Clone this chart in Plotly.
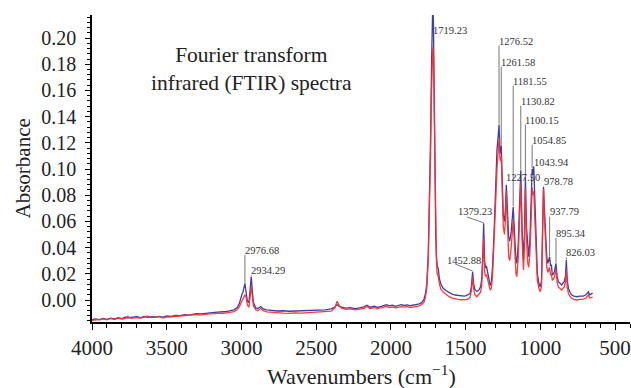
import plotly.graph_objects as go

# ---------------- data ----------------
wavenumbers = [
    4000, 3975, 3950, 3925, 3900, 3875, 3850, 3825, 3800, 3775, 3760, 3740, 3700, 3675, 3650, 3630,
    3600, 3575, 3550, 3525, 3500, 3470, 3440, 3410, 3380, 3350, 3320, 3300, 3270, 3240, 3210, 3180,
    3150, 3120, 3100, 3075, 3050, 3030, 3015, 3000, 2990, 2980, 2976.68, 2970, 2960, 2950, 2942,
    2934.29, 2928, 2920, 2905, 2890, 2870, 2855, 2830, 2800, 2760, 2720, 2680, 2640, 2600, 2560,
    2520, 2480, 2440, 2400, 2375, 2360, 2345, 2330, 2300, 2270, 2240, 2210, 2180, 2160, 2140, 2110,
    2090, 2060, 2030, 2010, 1990, 1970, 1950, 1930, 1910, 1890, 1870, 1850, 1830, 1810, 1795, 1780,
    1770, 1760, 1750, 1742, 1735, 1728, 1722, 1719.23, 1715, 1710, 1705, 1700, 1695, 1690, 1683,
    1675, 1665, 1650, 1630, 1610, 1590, 1570, 1550, 1530, 1510, 1495, 1480, 1470, 1462, 1452.88,
    1446, 1438, 1425, 1412, 1400, 1392, 1385, 1379.23, 1373, 1367, 1360, 1352, 1343, 1335, 1328,
    1320, 1310, 1300, 1290, 1282, 1276.52, 1270, 1266, 1261.58, 1255, 1248, 1240, 1233, 1227.50,
    1220, 1212, 1205, 1195, 1181.55, 1172, 1163, 1157, 1148, 1140, 1130.82, 1122, 1113, 1106,
    1100.15, 1092, 1085, 1078, 1070, 1062, 1054.85, 1049, 1043.94, 1036, 1028, 1020, 1010, 1000,
    992, 985, 978.78, 973, 968, 962, 957, 950, 944, 937.79, 932, 926, 920, 912, 905, 895.34, 888,
    880, 870, 862, 857, 848, 840, 832, 826.03, 820, 812, 800, 790, 775, 756, 735, 712, 695, 685,
    678, 670, 660, 650,
]

absorbance_blue = [
    -0.0150, -0.0145, -0.0152, -0.0140, -0.0148, -0.0138, -0.0145, -0.0135, -0.0142, -0.0130, -0.0138, -0.0132, -0.0128, -0.0135, -0.0126, -0.0132,
    -0.0128, -0.0130, -0.0125, -0.0130, -0.0122, -0.0126, -0.0118, -0.0120, -0.0112, -0.0115, -0.0108, -0.0104, -0.0106, -0.0100, -0.0098, -0.0095,
    -0.0092, -0.0094, -0.0088, -0.0082, -0.0075, -0.0060, -0.0030, 0.0030, 0.0060, 0.0110, 0.0127, 0.0070, -0.0010, -0.0020, 0.0060,
    0.0178, 0.0080, -0.0020, -0.0060, -0.0065, -0.0050, -0.0068, -0.0075, -0.0080, -0.0084, -0.0082, -0.0086, -0.0084, -0.0082, -0.0085,
    -0.0080, -0.0078, -0.0075, -0.0068, -0.0055, -0.0035, -0.0050, -0.0055, -0.0062, -0.0058, -0.0066, -0.0060, -0.0052, -0.0040, -0.0055, -0.0048,
    -0.0056, -0.0046, -0.0035, -0.0045, -0.0040, -0.0048, -0.0044, -0.0036, -0.0042, -0.0038, -0.0044, -0.0040, -0.0036, -0.0030, -0.0020, 0.0000,
    0.0040, 0.0120, 0.0350, 0.0700, 0.1200, 0.1800, 0.2150, 0.2300, 0.2100, 0.1500, 0.0900, 0.0500, 0.0330, 0.0260, 0.0240,
    0.0160, 0.0120, 0.0090, 0.0070, 0.0055, 0.0045, 0.0038, 0.0035, 0.0032, 0.0030, 0.0033, 0.0040, 0.0050, 0.0100, 0.0216,
    0.0120, 0.0080, 0.0065, 0.0075, 0.0100, 0.0160, 0.0350, 0.0585, 0.0300, 0.0250, 0.0255, 0.0200, 0.0150, 0.0110, 0.0130,
    0.0250, 0.0500, 0.0850, 0.1150, 0.1250, 0.1340, 0.1150, 0.1120, 0.1180, 0.0900, 0.0650, 0.0600, 0.0700, 0.0880,
    0.0650, 0.0480, 0.0450, 0.0520, 0.0710, 0.0450, 0.0300, 0.0280, 0.0420, 0.0700, 0.0990, 0.0550, 0.0310, 0.0500,
    0.0940, 0.0550, 0.0380, 0.0330, 0.0450, 0.0750, 0.1000, 0.0960, 0.1020, 0.0750, 0.0380, 0.0200, 0.0130, 0.0100,
    0.0150, 0.0500, 0.0865, 0.0700, 0.0560, 0.0400, 0.0330, 0.0280, 0.0300, 0.0330, 0.0260, 0.0270, 0.0190, 0.0200, 0.0220, 0.0280, 0.0180,
    0.0140, 0.0130, 0.0120, 0.0115, 0.0130, 0.0140, 0.0180, 0.0305, 0.0150, 0.0090, 0.0055, 0.0038, 0.0030, 0.0025, 0.0030, 0.0030, 0.0040, 0.0050,
    0.0063, 0.0040, 0.0048, 0.0052,
]

absorbance_red = [
    -0.0155, -0.0150, -0.0148, -0.0145, -0.0152, -0.0140, -0.0150, -0.0138, -0.0145, -0.0140, -0.0125, -0.0140, -0.0135, -0.0138, -0.0130, -0.0122,
    -0.0135, -0.0133, -0.0128, -0.0138, -0.0130, -0.0128, -0.0125, -0.0127, -0.0122, -0.0120, -0.0118, -0.0112, -0.0114, -0.0108, -0.0106, -0.0104,
    -0.0100, -0.0102, -0.0098, -0.0092, -0.0088, -0.0075, -0.0055, -0.0015, 0.0010, 0.0035, 0.0040, 0.0025, -0.0040, -0.0055, 0.0020,
    0.0102, 0.0040, -0.0045, -0.0075, -0.0080, -0.0065, -0.0082, -0.0090, -0.0094, -0.0098, -0.0100, -0.0102, -0.0098, -0.0100, -0.0098,
    -0.0096, -0.0092, -0.0090, -0.0085, -0.0060, -0.0010, -0.0045, -0.0062, -0.0072, -0.0068, -0.0075, -0.0070, -0.0064, -0.0050, -0.0065, -0.0058,
    -0.0066, -0.0058, -0.0048, -0.0058, -0.0052, -0.0060, -0.0055, -0.0050, -0.0054, -0.0050, -0.0058, -0.0055, -0.0050, -0.0045, -0.0035, -0.0020,
    0.0015, 0.0090, 0.0300, 0.0620, 0.1080, 0.1600, 0.1900, 0.1930, 0.1850, 0.1350, 0.0800, 0.0450, 0.0280, 0.0200, 0.0180,
    0.0120, 0.0080, 0.0060, 0.0040, 0.0025, 0.0015, 0.0008, 0.0005, 0.0002, 0.0000, 0.0003, 0.0010, 0.0020, 0.0070, 0.0178,
    0.0080, 0.0040, 0.0025, 0.0040, 0.0060, 0.0110, 0.0280, 0.0470, 0.0220, 0.0180, 0.0195, 0.0140, 0.0110, 0.0075, 0.0090,
    0.0180, 0.0400, 0.0720, 0.1000, 0.1150, 0.1230, 0.1080, 0.1060, 0.1100, 0.0820, 0.0560, 0.0500, 0.0620, 0.0830,
    0.0520, 0.0330, 0.0300, 0.0400, 0.0610, 0.0350, 0.0200, 0.0178, 0.0320, 0.0600, 0.0900, 0.0450, 0.0230, 0.0400,
    0.0850, 0.0450, 0.0290, 0.0250, 0.0350, 0.0600, 0.0860, 0.0800, 0.0830, 0.0600, 0.0300, 0.0150, 0.0090, 0.0063,
    0.0110, 0.0450, 0.0850, 0.0650, 0.0480, 0.0330, 0.0250, 0.0210, 0.0230, 0.0250, 0.0190, 0.0200, 0.0150, 0.0160, 0.0180, 0.0240, 0.0140,
    0.0100, 0.0090, 0.0080, 0.0076, 0.0090, 0.0100, 0.0140, 0.0230, 0.0100, 0.0050, 0.0025, 0.0013, 0.0005, 0.0000, 0.0005, 0.0007, 0.0015, 0.0025,
    0.0038, 0.0015, 0.0020, 0.0022,
]

peak_wavenumbers = [2976.68, 2934.29, 1719.23, 1452.88, 1379.23, 1276.52, 1261.58, 1227.50,
                    1181.55, 1130.82, 1100.15, 1054.85, 1043.94, 978.78, 937.79, 895.34, 826.03]

x_tick_values = [4000, 3500, 3000, 2500, 2000, 1500, 1000, 500]
y_tick_values = [0.00, 0.02, 0.04, 0.06, 0.08, 0.10, 0.12, 0.14, 0.16, 0.18, 0.20]

# ---------------- label layout (text heights in axis units) ----------------
label_text_y = [0.0380, 0.0225, 0.2061, 0.0305, 0.0672, 0.1977, 0.1817, 0.0939,
                0.1672, 0.1519, 0.1374, 0.1221, 0.1053, 0.0908, 0.0672, 0.0511, 0.0359]
# labels that sit to the left of their peak, with a slanted leader: text centre x, leader start (x, y)
offset_labels = {1452.88: (1510, 1570, 0.0275), 1379.23: (1434, 1492, 0.0634)}
no_leader = {1719.23, 1227.50}

SERIF = "Liberation Serif"

fig = go.Figure()
fig.add_trace(go.Scatter(x=wavenumbers, y=absorbance_blue, mode="lines",
                         line=dict(color="rgba(52,52,158,0.95)", width=1.3), showlegend=False))
fig.add_trace(go.Scatter(x=wavenumbers, y=absorbance_red, mode="lines",
                         line=dict(color="rgba(255,45,45,0.95)", width=1.3), showlegend=False))

annotations = []
shapes = []
for wn, ty in zip(peak_wavenumbers, label_text_y):
    idx = wavenumbers.index(wn)
    peak_val = max(absorbance_blue[idx], absorbance_red[idx])
    text = f"{wn:.2f}"
    if wn in offset_labels:
        tx, lx, ly = offset_labels[wn]
        annotations.append(dict(x=tx, y=ty, text=text, showarrow=False, xanchor="center",
                                yanchor="middle", font=dict(family=SERIF, size=10.5, color="#333")))
        shapes.append(dict(type="line", x0=lx, y0=ly, x1=wn, y1=peak_val + 0.0005,
                           line=dict(color="#777", width=1)))
    else:
        annotations.append(dict(x=wn, y=ty, text=text, showarrow=False, xanchor="left",
                                yanchor="middle", xshift=-2,
                                font=dict(family=SERIF, size=10.5, color="#333")))
        if wn not in no_leader and ty - 0.0035 > peak_val:
            shapes.append(dict(type="line", x0=wn, x1=wn, y0=ty - 0.0035, y1=peak_val + 0.0005,
                               line=dict(color="#777", width=1)))

annotations.append(dict(x=0.297, y=0.825, xref="paper", yref="paper",
                        text="Fourier transform<br>infrared (FTIR) spectra", showarrow=False,
                        xanchor="center", yanchor="middle", align="center",
                        font=dict(family=SERIF, size=21.5, color="#222")))
annotations.append(dict(x=0, y=0.5, xref="paper", yref="paper", text="Absorbance",
                        textangle=-90, showarrow=False, xanchor="center", yanchor="middle",
                        xshift=-70, font=dict(family=SERIF, size=21, color="#222")))
annotations.append(dict(x=0.5, y=0, xref="paper", yref="paper",
                        text="Wavenumbers (cm<sup>−1</sup>)", showarrow=False,
                        xanchor="center", yanchor="middle", yshift=-53,
                        font=dict(family=SERIF, size=22, color="#222")))

fig.update_layout(
    width=631, height=388,
    margin=dict(l=92, r=1, t=15, b=66),
    paper_bgcolor="white", plot_bgcolor="white",
    font=dict(family=SERIF, size=20, color="#222"),
    annotations=annotations, shapes=shapes,
    xaxis=dict(range=[4000, 400], tickvals=x_tick_values, ticks="outside", ticklen=6,
               tickwidth=1.3, tickcolor="black", showline=True, linecolor="black", linewidth=1.5,
               showgrid=False, zeroline=False, automargin=False, ticklabelstandoff=0,
               minor=dict(dtick=100, tick0=0, ticks="outside", ticklen=4, tickcolor="black",
                          tickwidth=1.2, showgrid=False),
               tickfont=dict(family=SERIF, size=21, color="#222")),
    yaxis=dict(range=[-0.0168, 0.2176], tickvals=y_tick_values, tickformat=".2f",
               ticks="outside", ticklen=5, tickwidth=1.3, tickcolor="black", showline=True,
               linecolor="black", linewidth=1.5, showgrid=False, zeroline=False,
               automargin=False, ticklabelstandoff=5,
               minor=dict(dtick=0.004, tick0=0, ticks="outside", ticklen=3, tickcolor="black",
                          tickwidth=1.2, showgrid=False),
               tickfont=dict(family=SERIF, size=20, color="#222")),
)

fig.write_html("out.html", config={"displayModeBar": False},
               post_script="document.body.style.margin='0';document.body.style.padding='0';")
